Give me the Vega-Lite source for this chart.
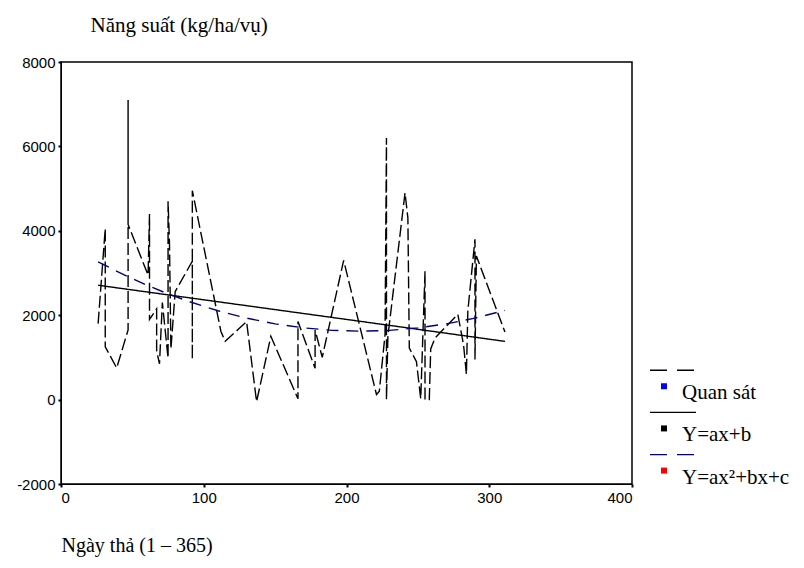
{
  "$schema": "https://vega.github.io/schema/vega-lite/v6.json",
  "padding": {"left": 15, "top": 13, "right": 5, "bottom": 5},
  "background": "white",
  "bounds": "flush",
  "spacing": 18,
  "datasets": {
    "series_rows": [
      {"series": "Quan sát", "day": 26, "yield": 1800},
      {"series": "Quan sát", "day": 31, "yield": 4050},
      {"series": "Quan sát", "day": 31, "yield": 1250},
      {"series": "Quan sát", "day": 39, "yield": 750},
      {"series": "Quan sát", "day": 47, "yield": 1650},
      {"series": "Quan sát", "day": 47, "yield": 7100},
      {"series": "Quan sát", "day": 47, "yield": 4150},
      {"series": "Quan sát", "day": 61, "yield": 2950},
      {"series": "Quan sát", "day": 62, "yield": 4400},
      {"series": "Quan sát", "day": 62, "yield": 1900},
      {"series": "Quan sát", "day": 67, "yield": 2150},
      {"series": "Quan sát", "day": 67, "yield": 1150},
      {"series": "Quan sát", "day": 69, "yield": 850},
      {"series": "Quan sát", "day": 71, "yield": 2300},
      {"series": "Quan sát", "day": 75, "yield": 980},
      {"series": "Quan sát", "day": 75, "yield": 4700},
      {"series": "Quan sát", "day": 76, "yield": 3700},
      {"series": "Quan sát", "day": 77, "yield": 1200},
      {"series": "Quan sát", "day": 80, "yield": 2560},
      {"series": "Quan sát", "day": 92, "yield": 3280},
      {"series": "Quan sát", "day": 92, "yield": 950},
      {"series": "Quan sát", "day": 92, "yield": 4950},
      {"series": "Quan sát", "day": 112, "yield": 1620},
      {"series": "Quan sát", "day": 115, "yield": 1380},
      {"series": "Quan sát", "day": 124, "yield": 1660},
      {"series": "Quan sát", "day": 130, "yield": 1850},
      {"series": "Quan sát", "day": 137, "yield": -50},
      {"series": "Quan sát", "day": 147, "yield": 1500},
      {"series": "Quan sát", "day": 166, "yield": 20},
      {"series": "Quan sát", "day": 166, "yield": 1850},
      {"series": "Quan sát", "day": 178, "yield": 740},
      {"series": "Quan sát", "day": 178, "yield": 1650},
      {"series": "Quan sát", "day": 183, "yield": 1000},
      {"series": "Quan sát", "day": 198, "yield": 3300},
      {"series": "Quan sát", "day": 221, "yield": 120},
      {"series": "Quan sát", "day": 223, "yield": 200},
      {"series": "Quan sát", "day": 227, "yield": 1540},
      {"series": "Quan sát", "day": 228, "yield": 6200},
      {"series": "Quan sát", "day": 228, "yield": 0},
      {"series": "Quan sát", "day": 229, "yield": 1500},
      {"series": "Quan sát", "day": 241, "yield": 4900},
      {"series": "Quan sát", "day": 243, "yield": 4300},
      {"series": "Quan sát", "day": 244, "yield": 1220},
      {"series": "Quan sát", "day": 249, "yield": 900},
      {"series": "Quan sát", "day": 252, "yield": 20},
      {"series": "Quan sát", "day": 255, "yield": 3040},
      {"series": "Quan sát", "day": 255, "yield": 0},
      {"series": "Quan sát", "day": 258, "yield": 0},
      {"series": "Quan sát", "day": 259, "yield": 1200},
      {"series": "Quan sát", "day": 262, "yield": 1460},
      {"series": "Quan sát", "day": 278, "yield": 2020},
      {"series": "Quan sát", "day": 282, "yield": 1300},
      {"series": "Quan sát", "day": 284, "yield": 600},
      {"series": "Quan sát", "day": 285, "yield": 2100},
      {"series": "Quan sát", "day": 290, "yield": 3800},
      {"series": "Quan sát", "day": 290, "yield": 950},
      {"series": "Quan sát", "day": 291, "yield": 3400},
      {"series": "Quan sát", "day": 311, "yield": 1600},
      {"series": "Y=ax+b", "day": 26, "yield": 2710},
      {"series": "Y=ax+b", "day": 100, "yield": 2365},
      {"series": "Y=ax+b", "day": 200, "yield": 1900},
      {"series": "Y=ax+b", "day": 311, "yield": 1380},
      {"series": "Y=ax²+bx+c", "day": 26, "yield": 3265},
      {"series": "Y=ax²+bx+c", "day": 40, "yield": 3025},
      {"series": "Y=ax²+bx+c", "day": 50, "yield": 2865},
      {"series": "Y=ax²+bx+c", "day": 60, "yield": 2715},
      {"series": "Y=ax²+bx+c", "day": 75, "yield": 2505},
      {"series": "Y=ax²+bx+c", "day": 90, "yield": 2320},
      {"series": "Y=ax²+bx+c", "day": 110, "yield": 2105},
      {"series": "Y=ax²+bx+c", "day": 130, "yield": 1930},
      {"series": "Y=ax²+bx+c", "day": 150, "yield": 1795},
      {"series": "Y=ax²+bx+c", "day": 170, "yield": 1700},
      {"series": "Y=ax²+bx+c", "day": 190, "yield": 1640},
      {"series": "Y=ax²+bx+c", "day": 210, "yield": 1620},
      {"series": "Y=ax²+bx+c", "day": 230, "yield": 1640},
      {"series": "Y=ax²+bx+c", "day": 250, "yield": 1700},
      {"series": "Y=ax²+bx+c", "day": 270, "yield": 1795},
      {"series": "Y=ax²+bx+c", "day": 290, "yield": 1930},
      {"series": "Y=ax²+bx+c", "day": 311, "yield": 2115}
    ],
    "legend_rows": [
      {"series": "Quan sát", "rank": 1},
      {"series": "Y=ax+b", "rank": 2},
      {"series": "Y=ax²+bx+c", "rank": 3}
    ]
  },
  "hconcat": [
    {
      "width": 571,
      "height": 422,
      "view": {"stroke": "black", "strokeWidth": 1.5},
      "data": {"name": "series_rows"},
      "mark": {"type": "line", "strokeWidth": 1.4},
      "encoding": {
        "x": {
          "field": "day", "type": "quantitative",
          "scale": {"domain": [0, 400], "nice": false, "zero": false},
          "axis": {
            "values": [0, 100, 200, 300, 400],
            "format": "d",
            "title": "Ngày thả (1 – 365)",
            "titleAnchor": "start", "titleAlign": "left",
            "titlePadding": 30
          }
        },
        "y": {
          "field": "yield", "type": "quantitative",
          "scale": {"domain": [-2000, 8000], "nice": false, "zero": false},
          "axis": {
            "values": [-2000, 0, 2000, 4000, 6000, 8000],
            "format": "d",
            "labelExpr": "replace(datum.label, '−', '-')",
            "title": "Năng suất (kg/ha/vụ)",
            "titleFontSize": 21,
            "titleAngle": 0, "titleX": 29, "titleY": -31,
            "titleAlign": "left", "titleBaseline": "alphabetic"
          }
        },
        "color": {
          "field": "series", "type": "nominal",
          "scale": {"domain": ["Quan sát", "Y=ax+b", "Y=ax²+bx+c"], "range": ["#000000", "#000000", "#000080"]},
          "legend": null
        },
        "strokeDash": {
          "field": "series", "type": "nominal",
          "scale": {"domain": ["Quan sát", "Y=ax+b", "Y=ax²+bx+c"], "range": [[12, 4], [1, 0], [12, 8]]},
          "legend": null
        },
        "order": {"value": null}
      }
    },
    {
      "width": 146,
      "height": 422,
      "view": {"stroke": null},
      "data": {"name": "legend_rows"},
      "encoding": {
        "y": {
          "field": "rank", "type": "quantitative",
          "scale": {"domain": [-7, 3.01], "reverse": true, "nice": false, "zero": false},
          "axis": null
        }
      },
      "layer": [
        {
          "mark": {"type": "rule", "strokeWidth": 1.4, "yOffset": -29},
          "encoding": {
            "x": {"datum": 0, "type": "quantitative", "scale": {"domain": [0, 146], "nice": false}, "axis": null},
            "x2": {"datum": 46},
            "color": {"field": "series", "type": "nominal", "legend": null},
            "strokeDash": {
              "field": "series", "type": "nominal",
              "scale": {"domain": ["Quan sát", "Y=ax+b", "Y=ax²+bx+c"], "range": [[17, 10], [1, 0], [17, 10]]},
              "legend": null
            }
          }
        },
        {
          "mark": {"type": "point", "shape": "square", "filled": true, "size": 36, "opacity": 1, "yOffset": -13},
          "encoding": {
            "x": {"datum": 14, "type": "quantitative"},
            "fill": {
              "field": "series", "type": "nominal",
              "scale": {"domain": ["Quan sát", "Y=ax+b", "Y=ax²+bx+c"], "range": ["#0000ff", "#000000", "#ff0000"]},
              "legend": null
            }
          }
        },
        {
          "mark": {"type": "text", "align": "left", "baseline": "alphabetic", "font": "Liberation Serif", "fontSize": 21, "color": "black"},
          "encoding": {
            "x": {"datum": 32, "type": "quantitative"},
            "text": {"field": "series"}
          }
        }
      ]
    }
  ],
  "resolve": {"scale": {"strokeDash": "independent"}},
  "config": {
    "axis": {
      "grid": false,
      "labelFont": "Liberation Sans",
      "labelFontSize": 15,
      "labelColor": "black",
      "labelPadding": 3,
      "tickColor": "black",
      "tickSize": 3,
      "tickWidth": 2,
      "domainColor": "black",
      "domainWidth": 1,
      "titleFont": "Liberation Serif",
      "titleFontSize": 20,
      "titleFontWeight": "normal",
      "titleColor": "black"
    }
  }
}
